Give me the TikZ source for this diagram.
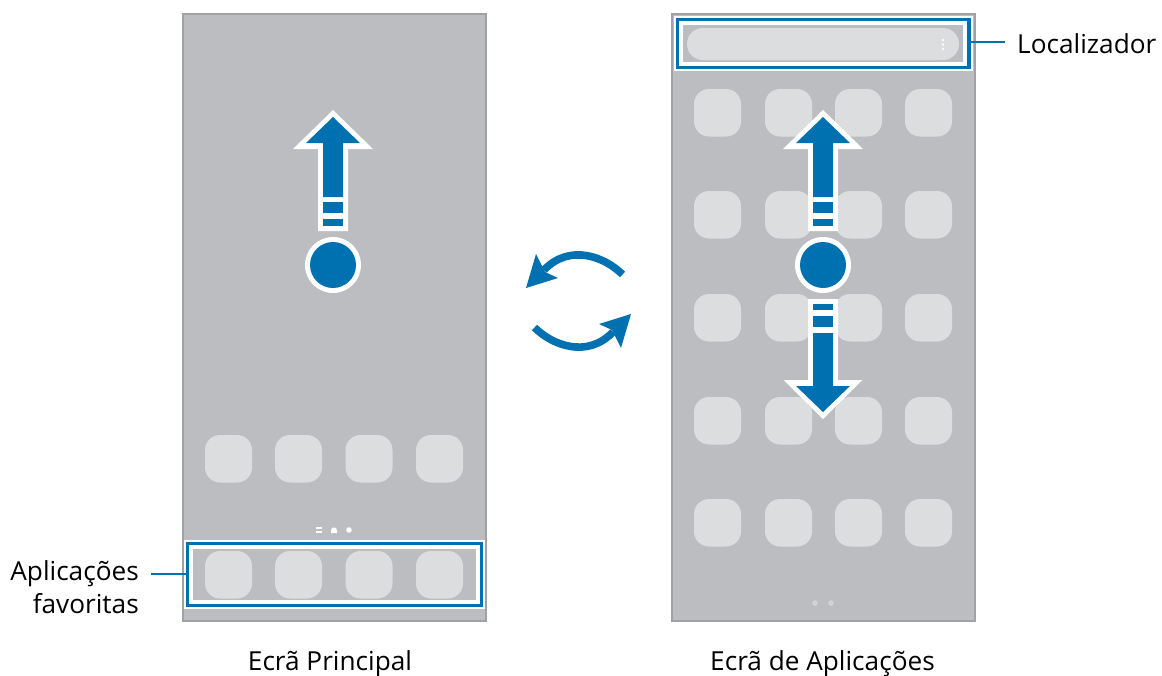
\documentclass[tikz,border=0pt]{standalone}
\usepackage{fontspec}
\setmainfont{Open Sans}
\definecolor{scr}{HTML}{BCBDC0}
\definecolor{edge}{HTML}{A0A1A4}
\definecolor{ico}{HTML}{DCDDDE}
\definecolor{blu}{HTML}{0071B0}
\tikzset{
 screen/.style={fill=scr,draw=edge,line width=2pt},
 appicon/.style={fill=ico,rounded corners=15pt,draw=none},
 whitebox/.style={draw=white,line width=9.5pt},
 bluebox/.style={draw=blu,line width=3.2pt},
 leader/.style={draw=blu,line width=2.8pt},
 lab/.style={font=\fontsize{26.2}{33}\selectfont,inner sep=0pt},
 swoosh/.style={draw=blu,line width=7.6pt},
}
\newcommand{\appat}[2]{\fill[appicon] (#1,#2) rectangle ++(47,47.5);}
\newcommand{\uparrowmark}[1]{%
 \begin{scope}[shift={(#1,0)}]
 \fill[white] (0,110)--(40,149)--(15,149)--(15,231)--(-15,231)--(-15,149)--(-40,149)--cycle;
 \fill[blu] (0,117)--(27,143)--(10,143)--(10,197)--(-10,197)--(-10,143)--(-27,143)--cycle;
 \fill[blu] (-10,202) rectangle (10,213);
 \fill[blu] (-10,219) rectangle (10,226);
 \fill[white] (0,265) circle (28);
 \fill[blu] (0,265) circle (23);
 \end{scope}}
\begin{document}
\begin{tikzpicture}[x=1pt,y=-1pt]
\useasboundingbox (0,0) rectangle (1162,675);
\fill[white] (0,0) rectangle (1162,675);
% screens
\draw[screen] (183,14) rectangle (485.5,620.5);
\draw[screen] (672,14) rectangle (974.5,620.5);
% left icons
\foreach \x in {205,275,345.5,416}{\appat{\x}{435}}
% page indicator
\fill[white] (316,527) rectangle (322,529);
\fill[white] (316,530.5) rectangle (322,532.5);
\fill[white] (331,533) -- (331,530.5) .. controls (331,528) and (332.5,527.5) .. (334,527.5) .. controls (335.5,527.5) and (337,528) .. (337,530.5) -- (337,533) -- cycle;
\fill[white] (349,530) circle (2.8);
% dock
\draw[whitebox] (188.5,544.5) rectangle (480.5,604.5);
\draw[bluebox] (187.5,543.5) rectangle (481.5,605.5);
\foreach \x in {205,275,345.5,416}{\appat{\x}{551}}
% right icons
\foreach \y in {89,191,294,397,499}{
 \foreach \x in {694,765,835,905}{\appat{\x}{\y}}}
\fill[ico!70!scr] (815,603) circle (2.8);
\fill[ico!70!scr] (831,603) circle (2.8);
% search
\draw[whitebox] (678.5,20.5) rectangle (968,66.5);
\draw[bluebox] (677.5,19.5) rectangle (969,67.5);
\fill[ico,rounded corners=15.9pt] (687,28) rectangle (959,60);
\foreach \y in {40,44.5,49}{\fill[white] (943,\y) circle (1.3);}
% arrows
\uparrowmark{333}
\uparrowmark{823}
\fill[white] (808,299)--(838,299)--(838,380)--(862.5,380)--(823,419)--(783.5,380)--(808,380)--cycle;
\fill[blu] (813,304) rectangle (833,310);
\fill[blu] (813,316) rectangle (833,327);
\fill[blu] (813,333)--(833,333)--(833,386)--(850,386)--(823,412)--(796,386)--(813,386)--cycle;
% rotate
\begin{scope}
 \draw[swoosh] (622.5,274.5) .. controls (605,257) and (570,243) .. (544,270);
 \fill[blu] (526,288)--(536,254)--(545,272)--(558,278)--cycle;
\end{scope}
\begin{scope}[shift={(1157,602)},x=-1pt,y=1pt]
 \draw[swoosh] (622.5,274.5) .. controls (605,257) and (570,243) .. (544,270);
 \fill[blu] (526,288)--(536,254)--(545,272)--(558,278)--cycle;
\end{scope}
% labels
\node[lab,anchor=base east,align=right] (fav1) at (139,580) {Aplicações};
\node[lab,anchor=base east] (fav2) at (139,613) {favoritas};
\node[lab,anchor=base west] (loc) at (1017,53) {Localizador};
\node[lab,anchor=base] (home) at (330,670) {Ecrã Principal};
\node[lab,anchor=base] (apps) at (822.5,670) {Ecrã de Aplicações};
% connectors
\coordinate (dockedge) at (186,574);
\coordinate (favend) at (151,574);
\coordinate (srchedge) at (970,42);
\coordinate (locend) at (1005,42);
\draw[leader] (favend) -- (dockedge);
\draw[leader] (srchedge) -- (locend);
\end{tikzpicture}
\end{document}
